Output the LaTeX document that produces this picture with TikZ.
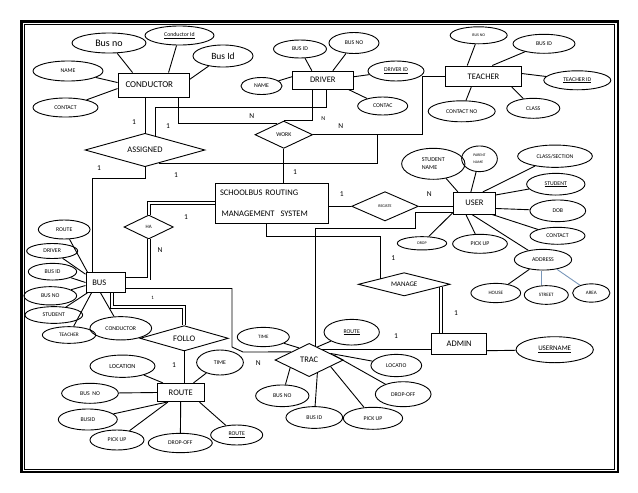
\documentclass[tikz,border=0pt]{standalone}
\usepackage{fontspec}
\setmainfont{Carlito}
\usepackage{tikz}
\usetikzlibrary{shapes.geometric}
\definecolor{addrline}{RGB}{120,150,185}
\tikzset{
    every node/.style={draw, line width=.9pt, inner sep=0pt,
    	font=\fontsize{5.8}{7}\selectfont}
}
\tikzset{
    every edge/.append style={line width=.9pt}
}
\tikzset{
	ent/.style 2 args={rectangle, minimum width=#1pt, minimum height=#2pt,
		font=\fontsize{8.5}{10}\selectfont},
	att/.style 2 args={ellipse, minimum width=#1pt, minimum height=#2pt},
	rel/.style 2 args={diamond, aspect=3, minimum width=#1pt,
		minimum height=#2pt, font=\fontsize{8.5}{10}\selectfont},
	card/.style={draw=none, font=\fontsize{7.5}{8}\selectfont},
	dbl/.style={double, double distance=2pt},
	tinytext/.style={font=\fontsize{4}{5}\selectfont}
}

\begin{document}
\begin{tikzpicture}[x=1pt, y=-1pt, line width=.9pt]
	\useasboundingbox (0,0) rectangle (638,493);
	\draw[line width=2.5pt] (21.3,21.3) rectangle (618,472.2);
	\draw[line width=1pt] (24,24) rectangle (614.2,469.2);

	\node[ent={71}{24}, text width=56pt, align=left,
		font=\fontsize{9}{10}\selectfont] (cond) at (153.5,85) {CONDUCTOR};
	\node[att={74}{20}, font=\fontsize{10}{11}\selectfont] (cbusno) at (109,43) {Bus no};
	\node[att={69}{19}] (cid) at (179.5,35.5) {\underline{Conductor Id}};
	\node[att={60}{22}, font=\fontsize{9.5}{11}\selectfont] (cbusid) at (223,56) {Bus Id};
	\node[att={70}{20}] (cname) at (68,71) {NAME};
	\node[att={65}{19}] (ccont) at (65.5,107.5) {CONTACT};

	\node[ent={61}{18}] (drv) at (322.8,80.2) {DRIVER};
	\node[att={53}{18}] (dbusid) at (300,49) {BUS ID};
	\node[att={50}{21}] (dbusno) at (354,43) {BUS NO};
	\node[att={41}{17}] (dname) at (261.5,86) {NAME};
	\node[att={56}{20}] (did) at (396,71) {\underline{DRIVER ID}};
	\node[att={50}{18}] (dcont) at (382.7,106) {CONTAC};

	\node[ent={75.6}{20.7}] (tch) at (483.5,76.3) {TEACHER};
	\node[att={57}{17}, tinytext] (tcbusno) at (478.7,35.3) {BUS NO};
	\node[att={62}{19}] (tcbusid) at (544,43.8) {BUS ID};
	\node[att={67}{19}] (tcid) at (577.3,80.3) {\underline{TEACHER ID}};
	\node[att={67}{21}] (tccont) at (461.7,111.3) {CONTACT NO};
	\node[att={53}{20}] (tcclass) at (533.3,108.3) {CLASS};

	\node[rel={120}{33.4}] (asg) at (145,150) {ASSIGNED};
	\node[rel={57.7}{27.3}, font=\fontsize{5.8}{7}\selectfont] (wrk) at (283.8,134.7) {WORK};
	\node[ent={112.7}{40}, text width=104pt, align=left] (sms) at (272,203.3)
		{SCHOOLBUS ROUTING\\[11pt]\hspace{1.5pt}MANAGEMENT\hspace{6pt}SYSTEM};
	\node[rel={66.7}{29.3}, tinytext] (reg) at (385,206.3) {REGISTE};
	\node[rel={49.3}{24}, font=\fontsize{5}{6}\selectfont] (ha) at (148.7,227) {HA};
	\node[rel={91.7}{23.3}, font=\fontsize{7}{8}\selectfont] (mng) at (404.2,284.3) {MANAGE};
	\node[rel={88.3}{25.3}] (flw) at (184.2,338.3) {FOLLO};
	\node[rel={68.3}{33.3}] (trc) at (309.2,360) {TRAC};

	\node[ent={42.3}{21.7}] (usr) at (474.5,203.2) {USER};
	\node[att={63.3}{31}, align=left, font=\fontsize{6}{8}\selectfont] (usname) at (433.3,163.8) {STUDENT\\NAME};
	\node[att={35.7}{25.7}, align=left, font=\fontsize{3.8}{7.5}\selectfont] (upname) at (479.5,158.8) {PARENT\\NAME};
	\node[att={74.7}{22.3}] (ucsec) at (555,156.2) {CLASS/SECTION};
	\node[att={58.3}{21.7}] (usid) at (555.8,184.2) {\underline{STUDENT}};
	\node[att={55.7}{21.7}] (udob) at (557.8,210.8) {DOB};
	\node[att={55}{17}] (ucont) at (557.5,235.8) {CONTACT};
	\node[att={57.3}{20.7}] (uaddr) at (543,259.7) {ADDRESS};
	\node[att={54.7}{19}] (upick) at (480,243.8) {PICK UP};
	\node[att={49.3}{13.3}, tinytext] (udrop) at (422,243.3) {DROP};
	\node[att={49.7}{19.3}, font=\fontsize{5}{6}\selectfont] (uhouse) at (495.8,293) {HOUSE};
	\node[att={44}{18.7}, font=\fontsize{5}{6}\selectfont] (ustreet) at (546.3,295) {STREET};
	\node[att={37.3}{18.3}, font=\fontsize{5}{6}\selectfont] (uarea) at (591.3,293) {AREA};

	\node[ent={55}{20.7}] (adm) at (459.2,343.7) {ADMIN};
	\node[att={77.3}{26}, font=\fontsize{7}{8}\selectfont] (auname) at (554.7,349.7) {\underline{USERNAME}};

	\node[ent={39.7}{19.7}, text width=27pt, align=left] (bus) at (105.8,282.5) {BUS};
	\node[att={51.7}{19}] (broute) at (64.2,229.5) {ROUTE};
	\node[att={51}{15}] (bdrv) at (52.2,251) {DRIVER};
	\node[att={48.3}{16.7}] (bbusid) at (52.5,271.7) {BUS ID};
	\node[att={52.7}{18.3}] (bbusno) at (50.3,295.8) {BUS NO};
	\node[att={57.7}{16.7}] (bstud) at (53.8,315) {STUDENT};
	\node[att={53.3}{16.7}, font=\fontsize{5.3}{6}\selectfont] (btch) at (69,335) {TEACHER};
	\node[att={61.7}{23.3}] (bcond) at (120.8,328.3) {CONDUCTOR};

	\node[ent={46.7}{18.3}] (rte) at (180.7,392.5) {ROUTE};
	\node[att={65}{22.3}, font=\fontsize{6.3}{7}\selectfont] (rloc) at (122.5,366.2) {LOCATION};
	\node[att={46.7}{25}] (rtime) at (220,362.5) {TIME};
	\node[att={56.7}{20}] (rbusno) at (90,393.3) {BUS\ \ NO};
	\node[att={59}{21}] (rbusid) at (87.8,419.5) {BUSID};
	\node[att={54}{20}] (rpick) at (117,440) {PICK UP};
	\node[att={64}{19.3}] (rdrop) at (180.3,443) {DROP-OFF};
	\node[att={52}{20}] (rid) at (236.7,435) {\underline{ROUTE}};

	\node[att={52}{19.3}, font=\fontsize{5}{6}\selectfont] (trtime) at (263.3,337) {TIME};
	\node[att={55.3}{25.7}] (trroute) at (351.7,332.2) {\underline{ROUTE}};
	\node[att={50.7}{22.3}] (trloc) at (396.3,365.5) {LOCATIO};
	\node[att={55.7}{25}] (trdrop) at (403.2,394.2) {DROP-OFF};
	\node[att={59.3}{22}] (trpick) at (373,418.3) {PICK UP};
	\node[att={56.7}{21.7}] (trbusid) at (314.3,417.5) {BUS ID};
	\node[att={53.3}{21.7}] (trbusno) at (282.3,395.8) {BUS NO};

	\coordinate (b1) at (326,107);
	\coordinate (j1) at (377,134.7);
	\coordinate (b5) at (92,178);
	\coordinate (b6) at (184.2,307);
	\coordinate (b7) at (232,347);
	\coordinate (b8) at (243,352);
	\coordinate (b9) at (415,228);
	\coordinate (b10) at (380,236);

	\draw (cbusno) edge ([xshift=15pt]cond.north west); \draw (cid) edge ([xshift=51pt]cond.north west);
	\draw (cbusid) edge ([yshift=-7pt]cond.north east); \draw (cname) edge ([yshift=-10pt]cond.north west);
	\draw (ccont) edge ([yshift=-16pt]cond.north west);
	\draw (dbusid) edge ([xshift=20pt]drv.north west); \draw (dbusno) edge ([xshift=41pt]drv.north west);
	\draw (dname) edge ([yshift=-6pt]drv.north west); \draw (did) edge ([yshift=-6pt]drv.north east);
	\draw (dcont) edge ([xshift=-5pt]drv.south east);
	\draw (tcbusno) edge ([xshift=22pt]tch.north west); \draw (tcbusid) edge ([xshift=47pt]tch.north west);
	\draw (tcid) edge ([yshift=-8pt]tch.north east); \draw (tccont) edge ([xshift=26pt]tch.south west);
	\draw (tcclass) edge ([xshift=-10pt]tch.south east);
	\draw (usname) edge ([xshift=5pt]usr.north west); \draw (upname) edge ([xshift=18pt]usr.north west);
	\draw (ucsec) edge ([xshift=30pt]usr.north west); \draw (usid) edge ([yshift=-3pt]usr.north east);
	\draw (udob) edge ([yshift=6pt]usr.south east); \draw (ucont) edge ([xshift=-4pt]usr.south east);
	\draw (uaddr) edge ([xshift=19pt]usr.south west); \draw (upick) edge ([xshift=13pt]usr.south west);
	\draw (udrop) edge ([yshift=2pt]usr.south west); \draw (uaddr) edge (uhouse);
	\draw[addrline] ([xshift=-2pt]uaddr.south) edge ([xshift=-2pt]uaddr.south |- ustreet.north);
	\draw[addrline] (uaddr) edge (uarea);
	\draw (auname) edge ([yshift=-7pt]adm.east);
	\draw (broute) edge ([xshift=2pt]bus.north west); \draw (bdrv) edge ([yshift=-2pt]bus.north west);
	\draw (bbusid) edge (bus.west); \draw (bbusno) edge ([yshift=-3pt]bus.west);
	\draw (bstud) edge ([xshift=2pt]bus.south west); \draw (btch) edge ([xshift=6pt]bus.south west);
	\draw (bcond) edge ([xshift=15pt]bus.south west);
	\draw (rloc) edge ([xshift=6pt]rte.north west); \draw (rtime) edge ([xshift=-11pt]rte.north east);
	\draw (rbusno) edge (rte.west); \draw (rbusid) edge ([xshift=10pt]rte.south west);
	\draw (rpick) edge ([xshift=11pt]rte.south west); \draw (rdrop) edge (rte.south);
	\draw (rid) edge ([xshift=-5pt]rte.south east);
	\draw (trtime) edge (trc.130); \draw (trroute) edge (trc.58);
	\draw (trloc) edge (trc.17); \draw (trdrop) edge (trc.12);
	\draw (trpick) edge (trc.-17); \draw (trbusid) edge (trc.-58);
	\draw (trbusno) edge (trc.-158);

	\draw (cond.south -| asg.north) -- (asg.north);
	\draw ([xshift=24.5pt]cond.south) |- (wrk.120);
	\draw ([xshift=-10.5pt]drv.south) |- (wrk.north);
	\draw (asg.55) |- (b1) -- (b1 |- drv.south);
	\draw (asg.-43) -| (j1);
	\draw (wrk.east) -| ([xshift=-23pt]tch.west) -- (tch.west);
	\draw (asg.south) |- (b5) -- (b5 |- bus.north);
	\draw (wrk.south) -- (wrk.south |- sms.north);
	\draw (sms.east |- reg.west) -- (reg.west); \draw (reg.east) -- (reg.east -| usr.west);
	\draw[dbl] (sms.west) -| (ha.north);
	\draw[dbl] (ha.south) |- ([yshift=4pt]bus.east);
	\draw[dbl] ([xshift=6pt]bus.south) |- (b6) -- (flw.north);
	\draw (flw.south) -- (flw.south |- rte.north);
	\draw ([yshift=-6pt]bus.east) -| (b7) -- (b8) -- (trc.156);
	\draw ([yshift=-8.8pt]usr.west) -| (b9) -| (trc.67);
	\draw ([xshift=-6pt]sms.south) |- (b10) -- (b10 |- mng.167);
	\draw[dbl] (mng.-4) -- (mng.-4 |- adm.north);
	\draw (trc.42) -- (trc.42 -| adm.west);

	\node[card] (l1) at (134,122) {1};
	\node[card] (l2) at (168,126) {1};
	\node[card] (l3) at (99,168) {1};
	\node[card] (l4) at (176,175) {1};
	\node[card] (l5) at (251.7,116) {N};
	\node[card, font=\fontsize{6}{7}\selectfont] (l6) at (323.3,118.3) {N};
	\node[card] (l7) at (340.7,125.7) {N};
	\node[card] (l8) at (295,172.3) {1};
	\node[card] (l9) at (341.7,194) {1};
	\node[card] (l10) at (429.3,194) {N};
	\node[card] (l11) at (186,216.7) {1};
	\node[card] (l12) at (160,250) {N};
	\node[card] (l13) at (393.3,258.3) {1};
	\node[card] (l14) at (456,313.3) {1};
	\node[card, font=\fontsize{5}{6}\selectfont] (l15) at (152.7,298.3) {1};
	\node[card] (l16) at (174,365) {1};
	\node[card] (l17) at (258.3,363.3) {N};
	\node[card] (l18) at (396,336) {1};
\end{tikzpicture}
\end{document}
